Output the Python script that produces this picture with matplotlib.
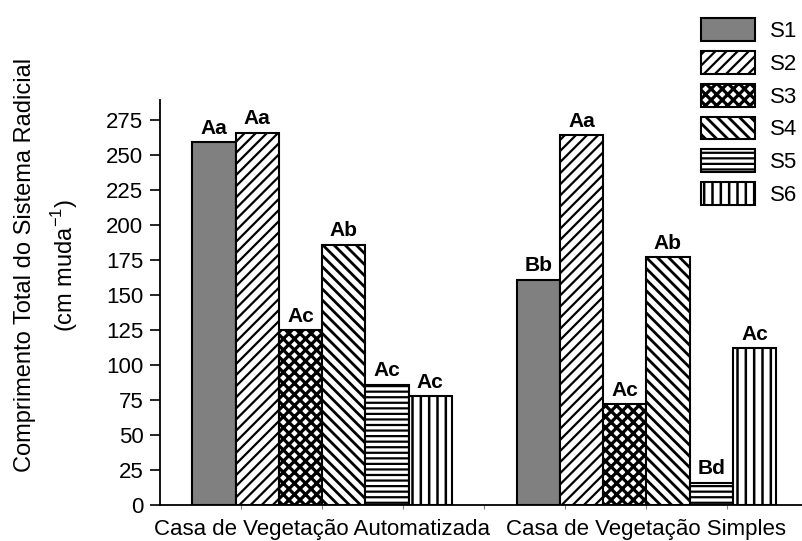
import matplotlib
matplotlib.use("Agg")
import matplotlib.pyplot as plt
import numpy as np

plt.rcParams['font.family'] = ['Liberation Sans', 'DejaVu Sans']
plt.rcParams['hatch.linewidth'] = 1.6

groups = ["Casa de Vegetação Automatizada", "Casa de Vegetação Simples"]
series = ["S1", "S2", "S3", "S4", "S5", "S6"]
automatizada = [259, 266, 125, 186, 86, 78]
simples = [161, 264, 72, 177, 16, 112]
letters_auto = ["Aa", "Aa", "Ac", "Ab", "Ac", "Ac"]
letters_simp = ["Bb", "Aa", "Ac", "Ab", "Bd", "Ac"]
yticks = [0, 25, 50, 75, 100, 125, 150, 175, 200, 225, 250, 275]

hatches = ["", "///", "xxx", "\\\\\\", "---", "||"]
hatch_lw = [1.6, 1.6, 2.3, 2.0, 1.6, 1.8]
faces = ["#808080", "white", "white", "white", "white", "white"]

fig = plt.figure(figsize=(8.02, 5.41), dpi=100)
ax = fig.add_axes([0.1995, 0.0665, 0.8005, 0.7486])

xc = np.array([1.0, 2.0])
w = 0.1333
for i, s in enumerate(series):
    vals = [automatizada[i], simples[i]]
    labs = [letters_auto[i], letters_simp[i]]
    xs = xc + (i - 2.5) * w
    bars = ax.bar(xs, vals, width=w, color=faces[i], edgecolor="black",
                  hatch=hatches[i], linewidth=1.5, label=s)
    for p in bars:
        if hasattr(p, "set_hatch_linewidth"):
            p.set_hatch_linewidth(hatch_lw[i])
    for x, v, t in zip(xs, vals, labs):
        ax.text(x, v + 3, t, ha="center", va="bottom",
                fontsize=15, fontweight="bold")

ax.set_xlim(0.5, 2.48)
ax.set_ylim(0, 289.3)
ax.set_yticks(yticks)
ax.set_xticks(xc)
ax.set_xticklabels(groups, fontsize=16)
ax.set_xticks(np.arange(0.75, 2.5, 0.25), minor=True)
ax.tick_params(axis="x", which="both", length=3, width=0.8, color="gray", pad=7)
ax.tick_params(axis="y", labelsize=16, length=7, width=1.2, pad=5)

for side in ["top", "right"]:
    ax.spines[side].set_visible(False)
ax.spines["left"].set_linewidth(1.3)
ax.spines["bottom"].set_linewidth(1.3)

fig.text(0.031, 0.51, "Comprimento Total do Sistema Radicial",
         rotation=90, ha="center", va="center", fontsize=17)
fig.text(0.081, 0.51, "(cm muda$^{\\mathregular{-1}}$)",
         rotation=90, ha="center", va="center", fontsize=17)

leg = ax.legend(loc="upper right", bbox_to_anchor=(1.014, 1.235), frameon=False,
                fontsize=16, handlelength=2.4, handleheight=1.2,
                labelspacing=0.4, handletextpad=0.7, borderaxespad=0.2)
for h, lw in zip(leg.legend_handles, hatch_lw):
    if hasattr(h, "set_hatch_linewidth"):
        h.set_hatch_linewidth(lw)

fig.savefig("out.png", dpi=100)
